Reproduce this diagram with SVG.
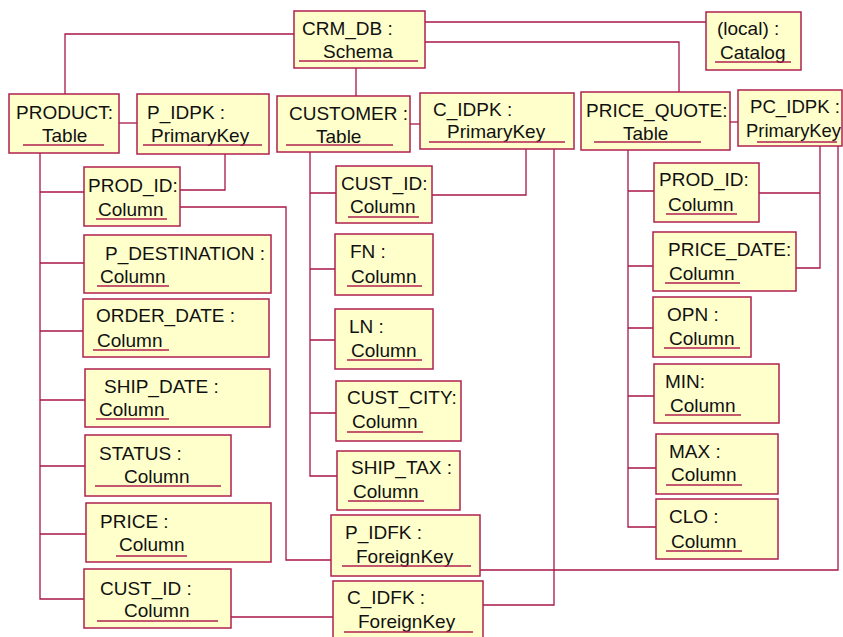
<svg xmlns="http://www.w3.org/2000/svg" width="843" height="637" viewBox="0 0 843 637">
<style>
.box{fill:#FFFFCC;stroke:#B0204F;stroke-width:1.5}
.t{font-family:"Liberation Sans",Arial,sans-serif;font-size:19px;fill:#111}
.ul{stroke:#B0204F;stroke-width:1.3}
.c{fill:none;stroke:#A8164A;stroke-width:1.3}
</style>
<rect width="843" height="637" fill="#fff"/>
<g id="connectors">
<path class="c" d="M294,34 H65 V94"/>
<path class="c" d="M425,22 H706"/>
<path class="c" d="M425,42 H679 V92"/>
<path class="c" d="M356,68 V96"/>
<path class="c" d="M119,123 H137"/>
<path class="c" d="M40,153 V599 H84"/>
<path class="c" d="M40,192 H84 M40,263 H84 M40,331 H83 M40,400 H85 M40,466 H85 M40,534 H86"/>
<path class="c" d="M225,154 V190 H180"/>
<path class="c" d="M180,207 H286 V560 H331"/>
<path class="c" d="M231,617 H333"/>
<path class="c" d="M410,124 H420"/>
<path class="c" d="M310,152 V476 H337"/>
<path class="c" d="M310,193 H336 M310,269 H335 M310,340 H335 M310,413 H336"/>
<path class="c" d="M526,149 V195 H432"/>
<path class="c" d="M554,149 V605 H483"/>
<path class="c" d="M730,122 H738"/>
<path class="c" d="M628,150 V527 H656"/>
<path class="c" d="M628,191 H654 M628,266 H653 M628,328 H653 M628,396 H654 M628,468 H656"/>
<path class="c" d="M820,146 V268 H796 M820,193 H759"/>
<path class="c" d="M838,146 V570 H480"/>
</g>
<g id="schema"><rect class="box" x="294" y="11" width="131" height="57"/><text class="t" x="302" y="35">CRM_DB :</text><text class="t" x="323" y="58">Schema</text><line class="ul" x1="299" y1="61" x2="418" y2="61"/></g>
<g id="catalog"><rect class="box" x="706" y="12" width="95" height="58"/><text class="t" x="717" y="35">(local) :</text><text class="t" x="720" y="59">Catalog</text><line class="ul" x1="715" y1="62" x2="791" y2="62"/></g>
<g id="product"><rect class="box" x="9" y="94" width="110" height="59"/><text class="t" x="16" y="119">PRODUCT:</text><text class="t" x="42" y="142">Table</text><line class="ul" x1="23" y1="145" x2="104" y2="145"/></g>
<g id="p_idpk"><rect class="box" x="137" y="94" width="132" height="60"/><text class="t" x="147" y="119">P_IDPK :</text><text class="t" x="151" y="142">PrimaryKey</text><line class="ul" x1="143" y1="145" x2="262" y2="145"/></g>
<g id="customer"><rect class="box" x="277" y="96" width="133" height="56"/><text class="t" x="289" y="120">CUSTOMER :</text><text class="t" x="316" y="143">Table</text><line class="ul" x1="286" y1="145" x2="393" y2="145"/></g>
<g id="c_idpk"><rect class="box" x="420" y="93" width="154" height="56"/><text class="t" x="433" y="116">C_IDPK :</text><text class="t" x="447" y="138">PrimaryKey</text><line class="ul" x1="429" y1="142" x2="565" y2="142"/></g>
<g id="price_quote"><rect class="box" x="581" y="92" width="149" height="58"/><text class="t" x="586" y="117">PRICE_QUOTE:</text><text class="t" x="623" y="140">Table</text><line class="ul" x1="594" y1="142" x2="701" y2="142"/></g>
<g id="pc_idpk"><rect class="box" x="738" y="90" width="104" height="56"/><text class="t" x="750" y="113" textLength="90" lengthAdjust="spacingAndGlyphs">PC_IDPK :</text><text class="t" x="746" y="137" textLength="95" lengthAdjust="spacingAndGlyphs">PrimaryKey</text><line class="ul" x1="757" y1="142" x2="837" y2="142"/></g>
<g id="prod_id"><rect class="box" x="84" y="167" width="96" height="59"/><text class="t" x="88" y="192">PROD_ID:</text><text class="t" x="98" y="216">Column</text><line class="ul" x1="96" y1="219" x2="167" y2="219"/></g>
<g id="p_destination"><rect class="box" x="84" y="235" width="187" height="58"/><text class="t" x="105" y="260">P_DESTINATION :</text><text class="t" x="100" y="283">Column</text><line class="ul" x1="97" y1="286" x2="169" y2="286"/></g>
<g id="order_date"><rect class="box" x="83" y="299" width="186" height="58"/><text class="t" x="96" y="322">ORDER_DATE :</text><text class="t" x="97" y="347">Column</text><line class="ul" x1="93" y1="350" x2="169" y2="350"/></g>
<g id="ship_date"><rect class="box" x="85" y="369" width="185" height="58"/><text class="t" x="104" y="393">SHIP_DATE :</text><text class="t" x="99" y="416">Column</text><line class="ul" x1="96" y1="419" x2="169" y2="419"/></g>
<g id="status"><rect class="box" x="85" y="435" width="146" height="61"/><text class="t" x="99" y="460">STATUS :</text><text class="t" x="124" y="483">Column</text><line class="ul" x1="95" y1="486" x2="221" y2="486"/></g>
<g id="price"><rect class="box" x="86" y="503" width="185" height="59"/><text class="t" x="100" y="528">PRICE :</text><text class="t" x="119" y="551">Column</text><line class="ul" x1="116" y1="556" x2="187" y2="556"/></g>
<g id="cust_id_p"><rect class="box" x="84" y="569" width="147" height="59"/><text class="t" x="100" y="595">CUST_ID :</text><text class="t" x="124" y="617">Column</text><line class="ul" x1="97" y1="621" x2="218" y2="621"/></g>
<g id="cust_id_c"><rect class="box" x="336" y="166" width="96" height="57"/><text class="t" x="341" y="190">CUST_ID:</text><text class="t" x="350" y="213">Column</text><line class="ul" x1="348" y1="217" x2="419" y2="217"/></g>
<g id="fn"><rect class="box" x="335" y="234" width="98" height="61"/><text class="t" x="350" y="258">FN :</text><text class="t" x="351" y="283">Column</text><line class="ul" x1="347" y1="286" x2="422" y2="286"/></g>
<g id="ln"><rect class="box" x="335" y="309" width="98" height="60"/><text class="t" x="349" y="333">LN :</text><text class="t" x="351" y="357">Column</text><line class="ul" x1="347" y1="360" x2="422" y2="360"/></g>
<g id="cust_city"><rect class="box" x="336" y="381" width="125" height="60"/><text class="t" x="347" y="404">CUST_CITY:</text><text class="t" x="352" y="428">Column</text><line class="ul" x1="347" y1="432" x2="423" y2="432"/></g>
<g id="ship_tax"><rect class="box" x="337" y="451" width="123" height="59"/><text class="t" x="351" y="474">SHIP_TAX :</text><text class="t" x="353" y="498">Column</text><line class="ul" x1="348" y1="501" x2="424" y2="501"/></g>
<g id="p_idfk"><rect class="box" x="331" y="515" width="149" height="61"/><text class="t" x="345" y="539">P_IDFK :</text><text class="t" x="356" y="563">ForeignKey</text><line class="ul" x1="342" y1="566" x2="471" y2="566"/></g>
<g id="c_idfk"><rect class="box" x="333" y="581" width="150" height="60"/><text class="t" x="347" y="604">C_IDFK :</text><text class="t" x="358" y="628">ForeignKey</text><line class="ul" x1="344" y1="632" x2="473" y2="632"/></g>
<g id="pq_prod_id"><rect class="box" x="654" y="163" width="105" height="59"/><text class="t" x="659" y="186">PROD_ID:</text><text class="t" x="668" y="211">Column</text><line class="ul" x1="666" y1="214" x2="737" y2="214"/></g>
<g id="price_date"><rect class="box" x="653" y="232" width="143" height="59"/><text class="t" x="668" y="256">PRICE_DATE:</text><text class="t" x="669" y="280">Column</text><line class="ul" x1="665" y1="283" x2="740" y2="283"/></g>
<g id="opn"><rect class="box" x="653" y="297" width="98" height="60"/><text class="t" x="667" y="321">OPN :</text><text class="t" x="669" y="345">Column</text><line class="ul" x1="664" y1="348" x2="740" y2="348"/></g>
<g id="min"><rect class="box" x="654" y="364" width="125" height="59"/><text class="t" x="665" y="388">MIN:</text><text class="t" x="670" y="412">Column</text><line class="ul" x1="665" y1="415" x2="741" y2="415"/></g>
<g id="max"><rect class="box" x="656" y="434" width="122" height="60"/><text class="t" x="669" y="458">MAX :</text><text class="t" x="671" y="481">Column</text><line class="ul" x1="666" y1="485" x2="742" y2="485"/></g>
<g id="clo"><rect class="box" x="656" y="499" width="122" height="60"/><text class="t" x="669" y="523">CLO :</text><text class="t" x="671" y="548">Column</text><line class="ul" x1="666" y1="551" x2="742" y2="551"/></g>
</svg>
